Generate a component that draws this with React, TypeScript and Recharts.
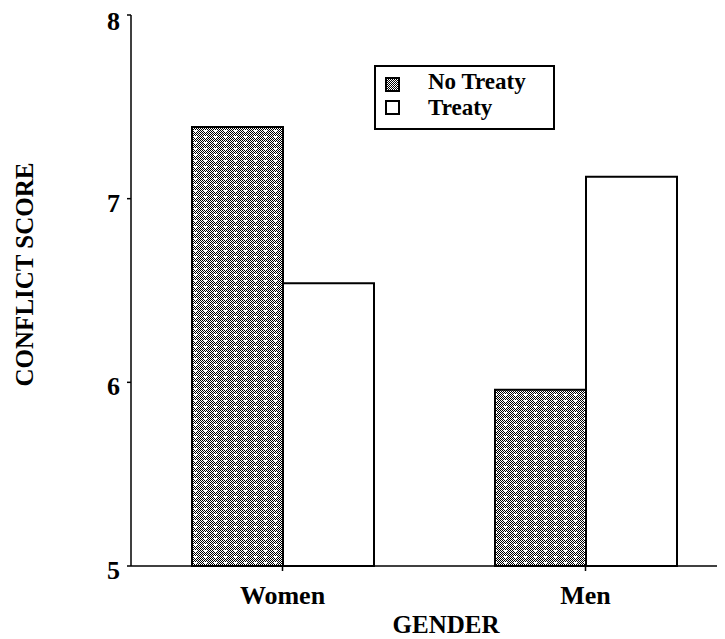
import React from 'react';
import { Bar, BarChart, Legend, XAxis, YAxis } from 'recharts';

const genders = ['Women', 'Men'];
const noTreaty = [7.39, 5.96];
const treaty = [6.54, 7.12];
const yTicks = [5, 6, 7, 8];

const data = genders.map((gender, i) => ({
  gender,
  noTreaty: noTreaty[i],
  treaty: treaty[i],
}));

const serif = '"Liberation Serif", "Times New Roman", serif';

// dithered grey used for the "No Treaty" bars
const ditherCells: { x: number; y: number }[] = [];
for (let i = 0; i < 10; i++) {
  for (let j = 0; j < 6; j++) {
    const light = i >= 6 && i <= 8 && j >= 2 && j <= 3;
    if ((i + j) % 2 === 0 && !light) ditherCells.push({ x: i, y: j });
  }
}

const YTick = ({ x, y, payload }: any) => (
  <text x={x} y={y + 13} textAnchor="end" fontFamily={serif} fontWeight="bold" fontSize={26} fill="#000">
    {payload.value}
  </text>
);

const XTick = ({ x, y, payload }: any) => (
  <text x={x} y={y + 33} textAnchor="middle" fontFamily={serif} fontWeight="bold" fontSize={26} fill="#000">
    {payload.value}
  </text>
);

const swatch = (fill: string): React.CSSProperties => ({
  position: 'absolute',
  left: 9,
  width: 15,
  height: 15,
  border: '2px solid #000',
  boxSizing: 'border-box',
  background: fill,
});

const legendText: React.CSSProperties = {
  position: 'absolute',
  left: 52,
  lineHeight: '25px',
  whiteSpace: 'nowrap',
};

const LegendBox = () => (
  <div
    style={{
      position: 'relative',
      width: 181,
      height: 65,
      border: '2px solid #000',
      boxSizing: 'border-box',
      background: '#fff',
      fontFamily: serif,
      fontWeight: 'bold',
      fontSize: 23,
      color: '#000',
    }}
  >
    <div style={{ ...swatch('repeating-conic-gradient(#000 0 25%, #fff 0 50%) 0 0 / 2px 2px'), top: 10 }} />
    <div style={{ ...swatch('#fff'), top: 33 }} />
    <div style={{ ...legendText, top: 2 }}>No Treaty</div>
    <div style={{ ...legendText, top: 28 }}>Treaty</div>
  </div>
);

export default function App() {
  return (
    <div style={{ width: 717, height: 631, overflow: 'hidden' }}>
      <BarChart
        width={740}
        height={631}
        data={data}
        margin={{ top: 7, right: 11, left: 5, bottom: 13 }}
        barCategoryGap={61}
        barGap={0}
      >
        <defs>
          <pattern id="dither" width={10} height={6} patternUnits="userSpaceOnUse">
            <rect width={10} height={6} fill="#fff" />
            {ditherCells.map((c) => (
              <rect key={`${c.x}-${c.y}`} x={c.x} y={c.y} width={1} height={1} fill="#000" />
            ))}
          </pattern>
        </defs>
        <XAxis
          dataKey="gender"
          height={60}
          tickSize={5}
          tickMargin={0}
          tick={<XTick />}
          axisLine={{ stroke: '#000', strokeWidth: 1.5 }}
          tickLine={{ stroke: '#000', strokeWidth: 1.5 }}
          label={{
            content: ({ viewBox }: any) => (
              <text
                x={viewBox.x + 315}
                y={viewBox.y + 67}
                textAnchor="middle"
                fontFamily={serif}
                fontWeight="bold"
                fontSize={25}
                fill="#000"
              >
                GENDER
              </text>
            ),
          }}
        />
        <YAxis
          width={118}
          domain={[5, 8]}
          ticks={yTicks}
          tickSize={4}
          tickMargin={7}
          tick={<YTick />}
          axisLine={{ stroke: '#000', strokeWidth: 1.5 }}
          tickLine={{ stroke: '#000', strokeWidth: 1.5 }}
          label={{
            content: ({ viewBox }: any) => {
              const cx = viewBox.x + 20;
              const cy = viewBox.y + viewBox.height / 2 - 16;
              return (
                <text
                  transform={`translate(${cx},${cy}) rotate(-90)`}
                  textAnchor="middle"
                  fontFamily={serif}
                  fontWeight="bold"
                  fontSize={25}
                  fill="#000"
                >
                  CONFLICT SCORE
                </text>
              );
            },
          }}
        />
        <Legend
          layout="horizontal"
          verticalAlign="middle"
          align="center"
          content={<LegendBox />}
          wrapperStyle={{ left: 366, top: 57, width: 181, height: 65 }}
        />
        <Bar dataKey="noTreaty" name="No Treaty" fill="url(#dither)" stroke="#000" strokeWidth={2} isAnimationActive={false} />
        <Bar dataKey="treaty" name="Treaty" fill="#fff" stroke="#000" strokeWidth={2} isAnimationActive={false} />
      </BarChart>
    </div>
  );
}
